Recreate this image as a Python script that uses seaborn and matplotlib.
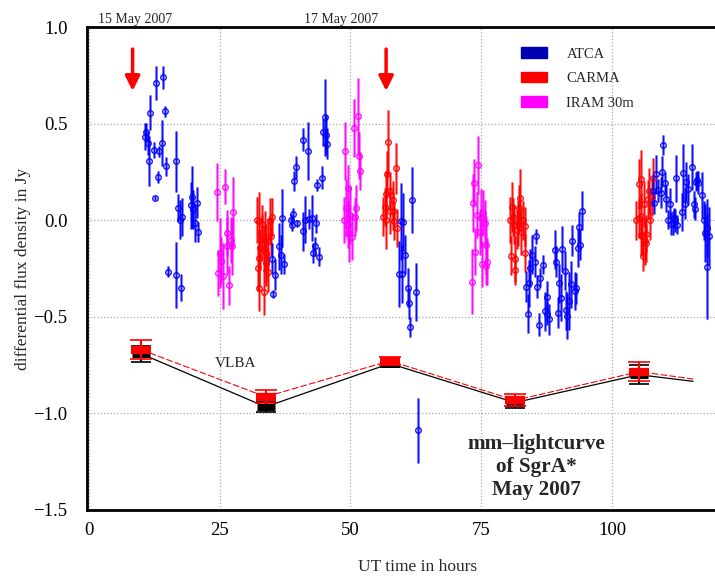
import numpy as np
import pandas as pd
import matplotlib
matplotlib.use("Agg")
import matplotlib.pyplot as plt
import seaborn as sns
from matplotlib.patches import Patch

# ATCA (x in hours, flux, error)
atca_x = [12.9, 14.3, 11.8, 14.6, 10.7, 11.0, 11.3, 12.4, 13.4, 14.0, 11.6, 14.8, 13.2, 12.7,
          16.7, 17.0, 17.4, 17.9, 15.1, 16.6, 17.6, 19.8, 19.5, 20.0, 20.7, 20.4, 20.9,
          36.9, 36.3, 36.7, 37.3, 35.0, 35.5, 35.2, 38.7, 39.0, 38.9, 39.8, 39.3, 39.6, 40.9,
          41.8, 41.0, 41.4, 42.0, 42.7, 43.5, 43.2, 42.9, 44.0, 43.7, 44.6, 44.8, 45.1, 45.4, 45.6,
          59.6, 60.0, 60.5, 59.2, 59.8, 60.9, 61.7, 61.2, 62.5, 61.4, 62.8,
          85.5, 84.6, 85.2, 84.3, 83.6, 84.0, 83.8, 85.7, 86.2, 86.8, 85.9, 87.5, 87.1, 87.5,
          87.9, 89.1, 89.3, 90.3, 89.8, 90.1, 89.6, 91.0, 91.2, 91.4, 91.7, 92.1, 92.2, 92.8,
          93.1, 93.4, 93.6, 93.9, 94.2,
          107.8, 108.0, 108.4, 108.7, 109.2, 109.5, 109.7, 110.1, 110.3, 110.6, 111.0, 111.1,
          111.5, 111.7, 112.0, 112.4, 112.2, 113.3, 113.5, 113.8, 114.1, 114.4, 115.2, 115.5,
          115.8, 116.0, 116.2, 116.4, 117.1, 117.4, 117.6, 118.1, 118.5, 118.0]
atca_y = [0.71, 0.74, 0.556, 0.563, 0.433, 0.455, 0.40, 0.363, 0.356, 0.398, 0.308, 0.278, 0.224, 0.116,
          0.304, 0.064, 0.003, 0.017, -0.266, -0.283, -0.349, 0.12, 0.077, 0.056, 0.09, -0.014, -0.061,
          0.009, -0.136, -0.179, -0.226, -0.2, -0.283, -0.382, 0.003, 0.033, -0.026, -0.017, 0.203, 0.273, 0.416,
          0.356, -0.057, 0.003, 0.007, 0.012, -0.017, -0.136, -0.17, -0.188, 0.182, 0.22, 0.455, 0.533, 0.443, 0.395,
          -0.005, -0.009, -0.179, -0.278, -0.278, -0.349, 0.103, -0.43, -0.37, -0.553, -1.088,
          -0.083, -0.179, -0.214, -0.248, -0.344, -0.327, -0.483, -0.344, -0.297, -0.231, -0.54, -0.396, -0.471, -0.483,
          -0.513, -0.153, -0.214, -0.15, -0.327, -0.401, -0.478, -0.261, -0.466, -0.495, -0.419, -0.332, -0.106, -0.367,
          -0.353, -0.144, -0.036, -0.127, 0.05,
          0.151, 0.09, 0.238, 0.155, 0.143, 0.25, 0.389, 0.19, 0.111, 0.003, 0.085, -0.019,
          -0.014, 0.012, 0.0, -0.023, 0.216, 0.043, 0.242, 0.085, 0.2, 0.16, 0.276, 0.082,
          0.059, 0.2, 0.207, 0.195, 0.13, 0.0, -0.066, -0.04, -0.083, -0.24]
atca_err = [0.09, 0.06, 0.09, 0.03, 0.07, 0.05, 0.06, 0.04, 0.03, 0.12, 0.13, 0.05, 0.03, 0.01,
            0.16, 0.07, 0.10, 0.10, 0.03, 0.17, 0.07, 0.16, 0.12, 0.10, 0.08, 0.10, 0.05,
            0.15, 0.12, 0.10, 0.05, 0.08, 0.08, 0.02, 0.03, 0.03, 0.03, 0.02, 0.05, 0.06, 0.06,
            0.15, 0.10, 0.12, 0.05, 0.12, 0.05, 0.05, 0.05, 0.05, 0.03, 0.06, 0.07, 0.20, 0.10, 0.08,
            0.20, 0.15, 0.10, 0.17, 0.15, 0.10, 0.17, 0.08, 0.15, 0.05, 0.17,
            0.04, 0.10, 0.08, 0.10, 0.08, 0.12, 0.10, 0.06, 0.05, 0.05, 0.06, 0.08, 0.10, 0.06,
            0.08, 0.10, 0.08, 0.12, 0.10, 0.12, 0.08, 0.10, 0.10, 0.12, 0.15, 0.12, 0.08, 0.10,
            0.08, 0.10, 0.08, 0.08, 0.10,
            0.08, 0.06, 0.10, 0.06, 0.08, 0.08, 0.05, 0.06, 0.07, 0.05, 0.08, 0.06,
            0.06, 0.05, 0.06, 0.05, 0.12, 0.10, 0.15, 0.08, 0.10, 0.08, 0.12, 0.07,
            0.06, 0.05, 0.05, 0.06, 0.12, 0.10, 0.15, 0.15, 0.15, 0.27]

carma_x = [32.1, 32.5, 33.2, 34.6, 35.1, 33.1, 33.6, 34.2, 32.7, 33.4, 34.8, 32.5, 33.8, 32.4,
           34.2, 32.5, 33.4, 33.9,
           57.2, 58.6, 57.0, 56.7, 57.5, 58.1, 56.5, 57.5, 58.2, 56.2, 56.7, 58.4, 58.8,
           80.8, 80.5, 81.0, 82.4, 82.2, 82.9, 81.9, 83.3, 81.2, 82.6, 81.8, 80.6, 81.5, 81.4, 83.4,
           104.6, 105.1, 105.5, 107.1, 105.1, 105.5, 106.0, 106.8, 107.0, 107.5, 107.7, 105.4,
           105.7, 106.5, 106.2, 106.4, 105.9]
carma_y = [0.0, -0.005, -0.019, -0.005, 0.016, -0.092, -0.10, -0.11, -0.144, -0.148, -0.083, -0.197, -0.222, -0.248,
           -0.27, -0.35, -0.37, -0.17,
           0.403, 0.268, 0.238, 0.137, 0.151, 0.103, 0.068, 0.05, 0.047, 0.019, 0.003, -0.005, -0.04,
           0.068, 0.0, 0.016, 0.116, 0.064, 0.0, -0.014, -0.031, -0.023, -0.061, -0.049, -0.183, -0.2, -0.257, -0.17,
           0.0, 0.009, 0.021, 0.0, 0.186, 0.212, 0.085, 0.108, 0.151, 0.12, 0.22, -0.078,
           -0.083, -0.071, -0.11, -0.118, -0.183]
carma_err = [0.12, 0.15, 0.10, 0.12, 0.10, 0.12, 0.15, 0.12, 0.10, 0.12, 0.10, 0.15, 0.12, 0.12,
             0.10, 0.12, 0.12, 0.15,
             0.17, 0.13, 0.12, 0.12, 0.10, 0.10, 0.10, 0.12, 0.10, 0.10, 0.15, 0.10, 0.10,
             0.13, 0.12, 0.10, 0.15, 0.12, 0.10, 0.12, 0.10, 0.10, 0.12, 0.10, 0.10, 0.12, 0.08, 0.10,
             0.10, 0.10, 0.12, 0.10, 0.13, 0.15, 0.12, 0.10, 0.12, 0.10, 0.10, 0.10,
             0.10, 0.10, 0.12, 0.10, 0.08]

iram_x = [24.5, 26.1, 27.6, 26.5, 26.4, 27.2, 27.3, 25.0, 25.3, 24.8, 25.7, 26.8,
          48.9, 50.6, 51.5, 51.7, 51.9, 49.5, 49.1, 48.8, 50.0, 49.5, 49.8, 50.3, 51.1, 50.9,
          74.4, 73.6, 73.4, 73.8, 73.2, 74.2, 74.9, 75.3, 75.6, 74.8, 75.8, 75.2, 76.1, 75.9]
iram_y = [0.148, 0.174, 0.043, -0.066, -0.132, -0.104, -0.136, -0.17, -0.209, -0.273, -0.288, -0.337,
          0.356, 0.476, 0.537, 0.334, 0.255, 0.165, 0.061, 0.0, 0.026, -0.023, -0.066, -0.087, 0.064, 0.016,
          0.287, 0.195, 0.09, -0.162, -0.318, 0.026, 0.012, 0.038, -0.014, -0.061, -0.13, -0.228, -0.214, -0.235]
iram_err = [0.15, 0.09, 0.18, 0.12, 0.15, 0.12, 0.15, 0.18, 0.12, 0.12, 0.17, 0.10,
            0.15, 0.15, 0.20, 0.12, 0.10, 0.12, 0.15, 0.12, 0.15, 0.12, 0.15, 0.12, 0.12, 0.10,
            0.15, 0.12, 0.15, 0.12, 0.17, 0.12, 0.15, 0.12, 0.12, 0.12, 0.15, 0.12, 0.12, 0.10]

# VLBA (last x is only the line end)
vlba_x = [10.1, 33.8, 57.5, 81.4, 105.1, 115.4]
vlba_red = [-0.671, -0.914, -0.728, -0.932, -0.784, -0.822]
vlba_black = [-0.692, -0.966, -0.742, -0.944, -0.800, -0.834]
vlba_red_err = [0.05, 0.033, 0.02, 0.03, 0.05]
vlba_black_err = [0.04, 0.025, 0.02, 0.03, 0.05]

arrow_x = [8.4, 56.8]

sns.set_style("white")
plt.rcParams['font.family'] = ['Liberation Serif', 'DejaVu Serif']

fig = plt.figure(figsize=(7.15, 5.76), dpi=100)
# the plot box runs past the right edge of the picture (cropped like the original)
ax = fig.add_axes([0.1217, 0.1146, 0.926, 0.8385])

ax.grid(True, color='#aaaaaa', linestyle=':', linewidth=0.9)
ax.set_axisbelow(True)

df = pd.concat([
    pd.DataFrame({'t': atca_x, 'flux': atca_y, 'err': atca_err, 'tel': 'ATCA'}),
    pd.DataFrame({'t': carma_x, 'flux': carma_y, 'err': carma_err, 'tel': 'CARMA'}),
    pd.DataFrame({'t': iram_x, 'flux': iram_y, 'err': iram_err, 'tel': 'IRAM 30m'}),
])
colors = {'ATCA': '#0000ff', 'CARMA': '#ff0000', 'IRAM 30m': '#ff00ff'}
legend_colors = {'ATCA': '#0000b4', 'CARMA': '#ff0000', 'IRAM 30m': '#ff00ff'}

for tel in ['IRAM 30m', 'CARMA', 'ATCA']:
    d = df[df.tel == tel]
    ax.errorbar(d.t, d.flux, yerr=d.err, fmt='none', ecolor=colors[tel],
                elinewidth=2.2, alpha=0.4)
    ax.errorbar(d.t, d.flux, yerr=d.err, fmt='o', color=colors[tel], mfc='none',
                mec=colors[tel], ms=4, mew=1.0, elinewidth=1.0, alpha=0.9)

# VLBA curves
sns.lineplot(x=vlba_x, y=vlba_black, color='black', lw=0.9, ax=ax)
sns.lineplot(x=vlba_x, y=vlba_red, color='red', lw=0.8, ax=ax, linestyle=(0, (6, 2)))
ax.errorbar(vlba_x[:5], vlba_black[:5], yerr=vlba_black_err, fmt='none', ecolor='black',
            elinewidth=1.5, capsize=7, capthick=1.2)
ax.plot(vlba_x[:5], vlba_black[:5], ls='none', marker='_', ms=13, mew=5, color='black')
ax.errorbar(vlba_x[:5], vlba_red[:5], yerr=vlba_red_err, fmt='none', ecolor='red',
            elinewidth=1.5, capsize=8, capthick=1.2)
ax.plot(vlba_x[:5], vlba_red[:5], ls='none', marker='_', ms=15, mew=6, color='red')
ax.text(28.1, -0.74, 'VLBA', fontsize=11, ha='center', va='center')

for xa in arrow_x:
    ax.annotate('', xy=(xa, 0.655), xytext=(xa, 0.9),
                arrowprops=dict(arrowstyle='-|>', color='red', lw=2.5, mutation_scale=22))

ax.text(85.5, -1.28, 'mm\u2013lightcurve\nof SgrA*\nMay 2007', fontsize=15.3,
        fontweight='bold', ha='center', va='center', linespacing=1.2)

ax.text(8.8, 1.005, '15 May 2007', fontsize=10, ha='center', va='bottom')
ax.text(48.2, 1.005, '17 May 2007', fontsize=10, ha='center', va='bottom')

handles = [Patch(color=legend_colors[k], label=k) for k in ['ATCA', 'CARMA', 'IRAM 30m']]
ax.legend(handles=handles, loc='upper left', bbox_to_anchor=(0.636, 0.985), frameon=False,
          fontsize=10.5, handlelength=1.8, handleheight=0.75, handletextpad=1.3,
          labelspacing=0.75)

ax.set_xlim(-0.3, 126.1)
ax.set_ylim(-1.5, 1.0)
ax.set_xticks([0, 25, 50, 75, 100])
ax.set_yticks([1.0, 0.5, 0.0, -0.5, -1.0, -1.5])
ax.tick_params(length=0, labelsize=13.5, colors='black')
ax.tick_params(axis='y', pad=14)
ax.tick_params(axis='x', pad=9)
ax.set_xlabel('UT time in hours', fontsize=12.5, labelpad=14)
ax.set_ylabel('differential flux density in Jy', fontsize=12.5, labelpad=2)
for s in ax.spines.values():
    s.set_visible(True)
    s.set_color('black')
    s.set_linewidth(2)

fig.savefig('out.png', dpi=100)
